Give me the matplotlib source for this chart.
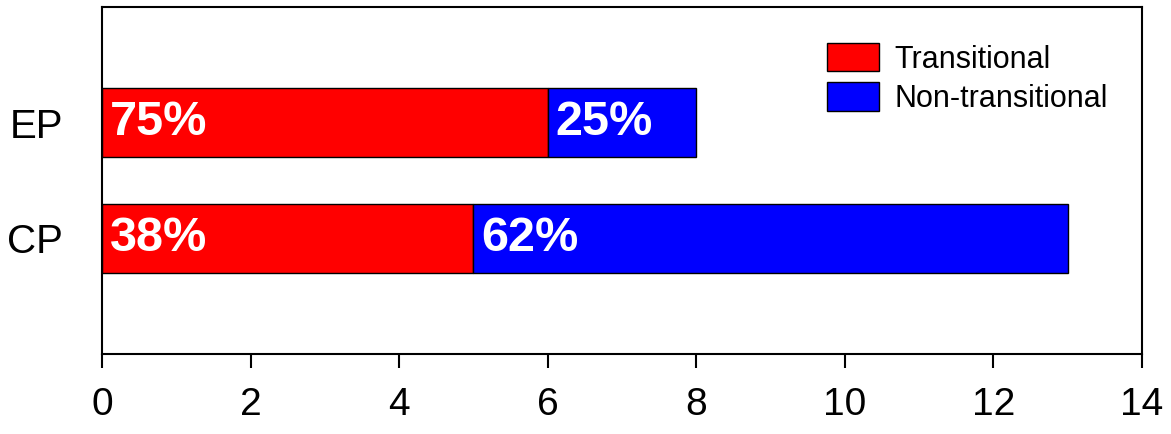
import matplotlib
matplotlib.use('Agg')
import matplotlib.pyplot as plt

plt.rcParams['font.family'] = ['Liberation Sans', 'DejaVu Sans']

# data
groups = ['CP', 'EP']
transitional = [5, 6]
non_transitional = [8, 2]
pct_trans = ['38%', '75%']
pct_non = ['62%', '25%']
x_ticks = [0, 2, 4, 6, 8, 10, 12, 14]

fig = plt.figure(figsize=(11.71, 4.34), dpi=100)
ax = fig.add_axes([102 / 1171, 80 / 434, 1040 / 1171, 347 / 434])

pos = list(range(len(groups)))
ax.barh(pos, transitional, height=0.6, color='#ff0000', edgecolor='black',
        linewidth=1.0, label='Transitional')
ax.barh(pos, non_transitional, left=transitional, height=0.6, color='#0000ff',
        edgecolor='black', linewidth=1.0, label='Non-transitional')

# percentage labels inside the bars
for i in pos:
    ax.annotate(pct_trans[i], (0, i), xytext=(8, 0), textcoords='offset pixels',
                ha='left', va='center', color='white', fontsize=35, fontweight='bold')
    ax.annotate(pct_non[i], (transitional[i], i), xytext=(8, 0), textcoords='offset pixels',
                ha='left', va='center', color='white', fontsize=35, fontweight='bold')

ax.set_xlim(0, 14)
ax.set_ylim(-1, 2)
ax.set_xticks(x_ticks)
ax.set_yticks(pos)
ax.set_yticklabels(groups)
ax.tick_params(axis='x', direction='out', length=10, width=1.5, pad=14, labelsize=28)
ax.tick_params(axis='y', length=0, pad=28, labelsize=29)
for s in ax.spines.values():
    s.set_linewidth(1.5)

ax.legend(loc='upper left', bbox_to_anchor=(827 / 1171, 1 - 43 / 434),
          bbox_transform=fig.transFigure, frameon=False, fontsize=22,
          borderpad=0, borderaxespad=0, handlelength=1.7, handleheight=1.05,
          handletextpad=0.5, labelspacing=0.25)

fig.savefig('out.png', dpi=100)
